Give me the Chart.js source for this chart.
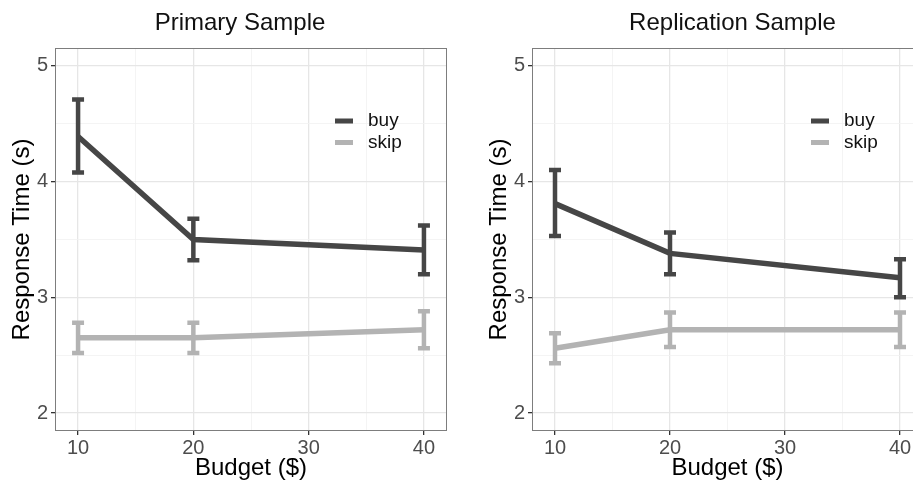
<!DOCTYPE html>
<html>
<head>
<meta charset="utf-8">
<script src="https://cdn.jsdelivr.net/npm/chart.js@4.4.1/dist/chart.umd.min.js"></script>
<style>
html, body { margin: 0; padding: 0; background: #fff; overflow: hidden; width: 913px; height: 482px; }
.panel { position: absolute; top: 0; }
</style>
</head>
<body>
<div class="panel" style="left:0px"><canvas id="primaryChart" width="456" height="492"></canvas></div>
<div class="panel" style="left:456px"><canvas id="replicationChart" width="480" height="492"></canvas></div>
<script>
// Data
const budgets = [10, 20, 40];
const xTicks = [10, 15, 20, 25, 30, 35, 40];
const yTicks = [2, 2.5, 3, 3.5, 4, 4.5, 5];

const primaryBuy = [4.39, 3.50, 3.41];
const primaryBuyLow = [4.08, 3.32, 3.20];
const primaryBuyHigh = [4.71, 3.68, 3.62];
const primarySkip = [2.65, 2.65, 2.72];
const primarySkipLow = [2.52, 2.52, 2.56];
const primarySkipHigh = [2.78, 2.78, 2.88];

const replicationBuy = [3.81, 3.38, 3.17];
const replicationBuyLow = [3.53, 3.20, 3.00];
const replicationBuyHigh = [4.10, 3.56, 3.33];
const replicationSkip = [2.56, 2.72, 2.72];
const replicationSkipLow = [2.43, 2.57, 2.57];
const replicationSkipHigh = [2.69, 2.87, 2.87];

const buyColor = '#464646';
const skipColor = '#b3b3b3';
const fontFamily = '"Liberation Sans", Arial, sans-serif';

// Error bars
const errorBars = {
    id: 'errorBars',
    afterDatasetsDraw(chart) {
        const { ctx, scales: { x, y } } = chart;
        chart.data.datasets.forEach(ds => {
            ctx.save();
            ctx.strokeStyle = ds.borderColor;
            ctx.lineWidth = 4.5;
            budgets.forEach((b, i) => {
                const px = x.getPixelForValue(b);
                const lo = y.getPixelForValue(ds.low[i]);
                const hi = y.getPixelForValue(ds.high[i]);
                ctx.beginPath();
                ctx.moveTo(px, lo); ctx.lineTo(px, hi);
                ctx.moveTo(px - 6, lo); ctx.lineTo(px + 6, lo);
                ctx.moveTo(px - 6, hi); ctx.lineTo(px + 6, hi);
                ctx.stroke();
            });
            ctx.restore();
        });
    }
};

// Panel frame, title and legend
const panelDecor = {
    id: 'panelDecor',
    afterDraw(chart, args, opts) {
        const { ctx, chartArea: ca } = chart;
        ctx.save();
        ctx.strokeStyle = '#7d7d7d';
        ctx.lineWidth = 1;
        ctx.strokeRect(ca.left + 0.5, ca.top + 0.5, ca.right - ca.left - 1, ca.bottom - ca.top - 1);

        ctx.fillStyle = '#111';
        ctx.font = '24px ' + fontFamily;
        ctx.textAlign = 'center';
        ctx.textBaseline = 'alphabetic';
        ctx.fillText(opts.text, (ca.left + ca.right) / 2 + opts.shift, 30);

        ctx.font = '19px ' + fontFamily;
        ctx.textAlign = 'left';
        ctx.textBaseline = 'middle';
        chart.data.datasets.forEach((ds, i) => {
            const ly = ca.top + 73 + i * 21.5;
            ctx.fillStyle = ds.borderColor;
            ctx.fillRect(ca.right - 112, ly - 2.5, 18, 5);
            ctx.fillStyle = '#111';
            ctx.fillText(ds.label, ca.right - 79, ly);
        });
        ctx.restore();
    }
};

function makeChart(id, title, shift, padLeft, padRight, buy, buyLow, buyHigh, skip, skipLow, skipHigh) {
    return new Chart(document.getElementById(id), {
        type: 'line',
        data: {
            datasets: [
                { label: 'buy', data: budgets.map((b, i) => ({ x: b, y: buy[i] })), low: buyLow, high: buyHigh,
                  borderColor: buyColor, borderWidth: 5.5, pointRadius: 0, tension: 0 },
                { label: 'skip', data: budgets.map((b, i) => ({ x: b, y: skip[i] })), low: skipLow, high: skipHigh,
                  borderColor: skipColor, borderWidth: 5.5, pointRadius: 0, tension: 0 }
            ]
        },
        options: {
            responsive: false, animation: false,
            layout: { padding: { left: padLeft, right: padRight, top: 48, bottom: 0 } },
            plugins: { legend: { display: false }, tooltip: { enabled: false }, panelDecor: { text: title, shift: shift } },
            scales: {
                x: {
                    type: 'linear', min: 8, max: 42,
                    afterBuildTicks: s => { s.ticks = xTicks.map(v => ({ value: v })); },
                    afterFit: s => { s.height = 61; },
                    ticks: { autoSkip: false, maxRotation: 0, color: '#4d4d4d', padding: 1,
                             font: { family: fontFamily, size: 20 },
                             callback: v => (v % 10 === 0 ? v : '') },
                    grid: { color: c => (c.tick && c.tick.value % 10 === 0 ? '#e6e6e6' : '#f1f1f1'),
                            lineWidth: c => (c.tick && c.tick.value % 10 === 0 ? 1.3 : 0.8),
                            tickLength: 4,
                            tickColor: c => (c.tick && c.tick.value % 10 === 0 ? '#333' : 'rgba(0,0,0,0)') },
                    border: { display: false },
                    title: { display: true, text: 'Budget ($)', color: '#000',
                             font: { family: fontFamily, size: 24 }, padding: { top: 0, bottom: 9 } }
                },
                y: {
                    min: 1.845, max: 5.155,
                    afterBuildTicks: s => { s.ticks = yTicks.map(v => ({ value: v })); },
                    afterFit: s => { s.width = 55; },
                    ticks: { autoSkip: false, color: '#4d4d4d', padding: 3,
                             font: { family: fontFamily, size: 20 },
                             callback: v => (Number.isInteger(v) ? v : '') },
                    grid: { color: c => (c.tick && Number.isInteger(c.tick.value) ? '#e6e6e6' : '#f1f1f1'),
                            lineWidth: c => (c.tick && Number.isInteger(c.tick.value) ? 1.3 : 0.8),
                            tickLength: 4,
                            tickColor: c => (c.tick && Number.isInteger(c.tick.value) ? '#333' : 'rgba(0,0,0,0)') },
                    border: { display: false },
                    title: { display: true, text: 'Response Time (s)', color: '#000',
                             font: { family: fontFamily, size: 24 }, padding: { top: 8, bottom: 0 } }
                }
            }
        },
        plugins: [errorBars, panelDecor]
    });
}

makeChart('primaryChart', 'Primary Sample', -11, 0, 9,
    primaryBuy, primaryBuyLow, primaryBuyHigh, primarySkip, primarySkipLow, primarySkipHigh);
makeChart('replicationChart', 'Replication Sample', 5, 21, 13,
    replicationBuy, replicationBuyLow, replicationBuyHigh, replicationSkip, replicationSkipLow, replicationSkipHigh);
</script>
</body>
</html>
